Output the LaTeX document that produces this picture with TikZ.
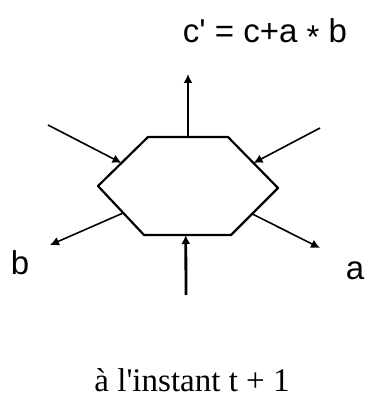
\documentclass[tikz,border=0pt]{standalone}
\usepackage{fontspec}
\setmainfont{Liberation Serif}
\newfontfamily\labelfont{Liberation Sans}
\usepackage{tikz}
\usetikzlibrary{arrows.meta,calc}
\tikzset{
  >=Latex,
  cell edge/.style={
    draw=black,
    line width=2.2pt,
    line join=round
  },
  connection/.style={
    draw=black,
    line width=1.6pt,
    -{Latex[length=9pt,width=9pt]}
  },
  main connection/.style={
    draw=black,
    line width=2.8pt,
    -{Latex[length=9pt,width=9pt]}
  },
  wire label/.style={
    font=\labelfont\fontsize{33}{36}\selectfont,
    inner sep=0pt,
    anchor=base
  },
  time label/.style={
    font=\fontsize{33}{36}\selectfont,
    inner sep=0pt,
    anchor=base
  }
}

\begin{document}
\begin{tikzpicture}[x=1pt,y=1pt]
  \useasboundingbox (0,0) rectangle (372,405);

  % the cell
  \coordinate (H-1) at (148,268);
  \coordinate (H-2) at (228,268);
  \coordinate (H-3) at (278,217);
  \coordinate (H-4) at (231,170);
  \coordinate (H-5) at (144,170);
  \coordinate (H-6) at (98,219);
  \draw[cell edge] (H-1) -- (H-2) -- (H-3) -- (H-4) -- (H-5) -- (H-6) -- cycle;

  \coordinate (P-top) at ($(H-1)!0.5!(H-2)$);
  \coordinate (P-bot) at ($(H-5)!0.48!(H-4)$);
  \coordinate (P-ul) at ($(H-6)!0.47!(H-1)$);
  \coordinate (P-ur) at ($(H-2)!0.51!(H-3)$);
  \coordinate (P-ll) at ($(H-5)!0.45!(H-6)$);
  \coordinate (P-lr) at ($(H-3)!0.55!(H-4)$);

  % free ends
  \coordinate (E-top) at (188,331);
  \coordinate (E-bot) at (186,110);
  \coordinate (E-ul) at (48,280);
  \coordinate (E-ur) at (320,277);
  \coordinate (E-ll) at (50,160);
  \coordinate (E-lr) at (320,157);

  \draw[main connection] (P-top) -- (E-top);
  \draw[main connection] (E-bot) -- (P-bot);
  \draw[connection] (E-ul) -- (P-ul);
  \draw[connection] (E-ur) -- (P-ur);
  \draw[connection] (P-ll) -- (E-ll);
  \draw[connection] (P-lr) -- (E-lr);

  \node[wire label] (out) at (265,362)
    {c\textquotesingle\ = c+a \raisebox{-0.3ex}{*} b};
  \node[wire label] (lab-b) at (20,130) {b};
  \node[wire label] (lab-a) at (355,125) {a};
  \node[time label] (time) at (192,13) {à l\textquotesingle instant t + 1};
\end{tikzpicture}
\end{document}
